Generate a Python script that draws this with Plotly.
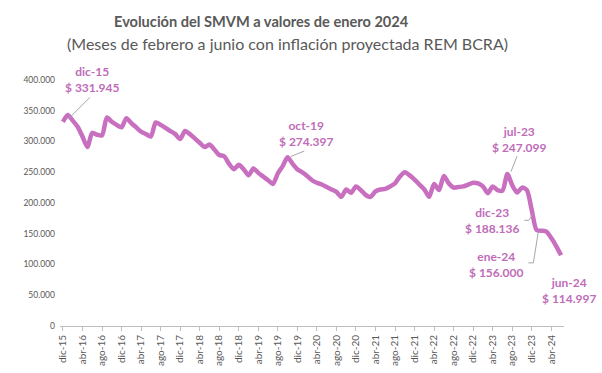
import plotly.graph_objects as go

# ---------------- data ----------------
month_names = ["ene", "feb", "mar", "abr", "may", "jun", "jul", "ago", "sep", "oct", "nov", "dic"]
# monthly categories dic-15 .. jun-24
months = ["dic-15"] + [f"{m}-{y:02d}" for y in range(16, 25) for m in month_names][:102]

smvm_real = [
    331945, 343000, 334000, 324000, 308000, 291000, 314000, 311000, 310000, 339000,
    332000, 327000, 323000, 338000, 330000, 323000, 316000, 312000, 308000, 331000,
    327000, 322000, 317000, 312000, 304000, 317000, 312000, 305000, 298000, 291000,
    295000, 287000, 278000, 276000, 264000, 255000, 262000, 255000, 245000, 256000,
    249000, 243000, 237000, 231000, 248000, 260000, 274397, 264000, 255000, 250000,
    244000, 237000, 233000, 230000, 226000, 222000, 218000, 210000, 222000, 216500,
    227000, 221000, 213000, 210000, 219000, 222000, 223000, 227000, 232000, 243000,
    250000, 245000, 238000, 230000, 222000, 210000, 231000, 221000, 244000, 232000,
    225000, 226000, 227000, 230000, 233000, 232000, 227000, 216000, 227000, 221000,
    220000, 247099, 229000, 217000, 225000, 221000, 188136, 156000, 155000, 153500,
    143000, 130000, 114997,
]

tick_labels = [
    "dic-15", "abr-16", "ago-16", "dic-16", "abr-17", "ago-17", "dic-17", "abr-18",
    "ago-18", "dic-18", "abr-19", "ago-19", "dic-19", "abr-20", "ago-20", "dic-20",
    "abr-21", "ago-21", "dic-21", "abr-22", "ago-22", "dic-22", "abr-23", "ago-23",
    "dic-23", "abr-24",
]

highlighted = ["dic-15", "oct-19", "jul-23", "dic-23", "ene-24", "jun-24"]

# ---------------- styling ----------------
LINE_COLOR = "#C870BF"
LABEL_COLOR = "#C06CB8"
LEADER_COLOR = "#A6A6A6"
TEXT_GRAY = "#595959"
FONT = "Lato"

W, H = 602, 373
M_L, M_R, M_T, M_B = 60, 38, 80, 47
plot_w = W - M_L - M_R
plot_h = H - M_T - M_B


def ypaper(px):
    return (H - M_B - px) / plot_h


def xpaper(px):
    return (px - M_L) / plot_w


def fmt(v):
    return "$ " + f"{v:,.0f}".replace(",", ".")


# label offsets (text centre relative to point, screen px, down positive) and leader paths
label_layout = {
    "dic-15": dict(dx=30, dy=-42, leader=[(27, -24.5), (5, -2.5)]),
    "oct-19": dict(dx=19, dy=-24, leader=[(16.7, -6.2), (3.4, -0.8)]),
    "jul-23": dict(dx=12, dy=-35, leader=[(9.7, -17.9), (3.7, -2.5)]),
    "dic-23": dict(dx=-39, dy=10, leader=[(-7.5, 10), (-3, 10), (1.2, 4)]),
    "ene-24": dict(dx=-40, dy=34, leader=[(-8.3, 32.8), (-3.3, 32.8), (1.7, 1.5)]),
    "jun-24": dict(dx=8.5, dy=35, leader=[(7.2, 16.6), (3.2, 1)]),
}

fig = go.Figure()
fig.add_trace(go.Scatter(
    x=months, y=smvm_real, mode="lines",
    line=dict(color=LINE_COLOR, width=4.5, shape="spline", smoothing=0.7),
    hoverinfo="skip", showlegend=False,
))

annotations = []
shapes = []
for m in highlighted:
    i = months.index(m)
    v = smvm_real[i]
    lay = label_layout[m]
    annotations.append(dict(
        x=m, y=v, xref="x", yref="y", showarrow=False,
        text=f"<b>{m}<br>{fmt(v)}</b>",
        xshift=lay["dx"], yshift=-lay["dy"],
        xanchor="center", yanchor="middle",
        font=dict(family=FONT, size=12, color=LABEL_COLOR),
    ))
    pts = lay["leader"]
    path = "M " + " L ".join(f"{px},{-py}" for px, py in pts)
    shapes.append(dict(
        type="path", xref="x", yref="y", xsizemode="pixel", ysizemode="pixel",
        xanchor=m, yanchor=v, path=path,
        line=dict(color=LEADER_COLOR, width=1),
    ))

annotations.append(dict(
    x=xpaper(261.5), xref="paper", y=ypaper(22), yref="paper", showarrow=False,
    text="<b>Evolución del SMVM a valores de enero 2024</b>",
    xanchor="center", yanchor="middle",
    font=dict(family=FONT, size=14.6, color=TEXT_GRAY),
))
annotations.append(dict(
    x=xpaper(287.5), xref="paper", y=ypaper(43), yref="paper", showarrow=False,
    text="(Meses de febrero a junio con inflación proyectada REM BCRA)",
    xanchor="center", yanchor="middle",
    font=dict(family=FONT, size=16, color=TEXT_GRAY),
))

fig.update_layout(
    width=W, height=H,
    margin=dict(l=M_L, r=M_R, t=M_T, b=M_B, pad=0),
    paper_bgcolor="white", plot_bgcolor="white",
    separators=",.",
    font=dict(family=FONT, color=TEXT_GRAY),
    annotations=annotations, shapes=shapes,
    xaxis=dict(
        type="category", range=[-0.6, len(months) - 0.4], automargin=False,
        tickmode="array", tickvals=tick_labels, ticktext=tick_labels,
        tickangle=-90, ticks="outside", ticklen=4, tickcolor="#BFBFBF",
        showline=True, linecolor="#BFBFBF", linewidth=1,
        showgrid=False, zeroline=False,
        tickfont=dict(family=FONT, size=10, color=TEXT_GRAY),
    ),
    yaxis=dict(
        range=[0, 400000], dtick=50000, tick0=0, tickformat=",d", automargin=False,
        showgrid=False, showline=False, zeroline=False, ticks="",
        tickfont=dict(family=FONT, size=8.5, color=TEXT_GRAY),
        ticklabelstandoff=4,
    ),
)

fig.write_html(
    "out.html",
    config={"displayModeBar": False, "staticPlot": True},
    post_script="document.body.style.margin='0';document.body.style.padding='0';document.body.style.overflow='hidden';",
)
